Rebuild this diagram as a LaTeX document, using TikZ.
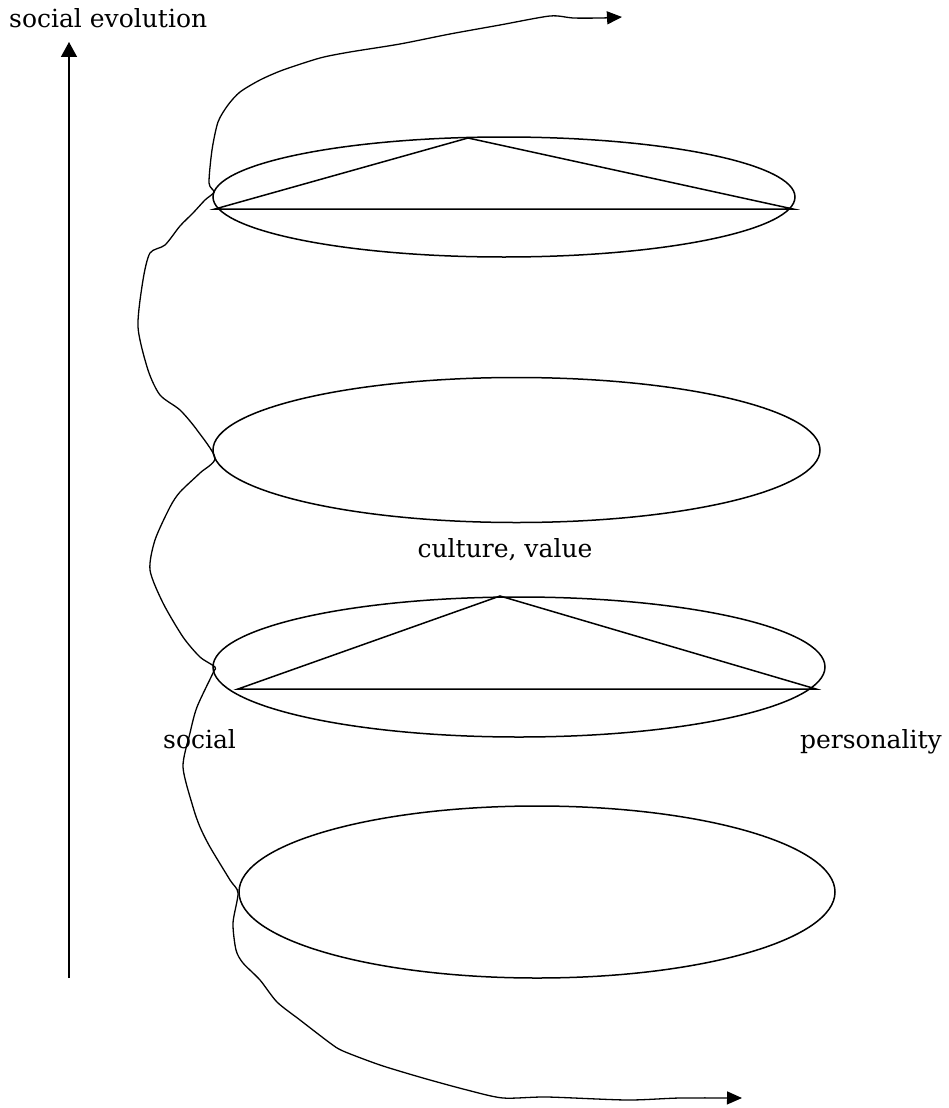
\documentclass[tikz,border=0pt]{standalone}
\usepackage{fontspec}
\setmainfont{DejaVu Serif}
\usetikzlibrary{arrows.meta}
\begin{document}
\begin{tikzpicture}[x=1pt,y=-1pt,
  lbl/.style={inner sep=0pt,font=\fontsize{25}{29}\selectfont},
  ring/.style={line width=1.5pt},
  tri/.style={line width=1.5pt,line join=miter},
  spiral/.style={line width=1.3pt,{Triangle[length=15pt,width=13pt]}-{Triangle[length=15pt,width=13pt]}},
  axis/.style={line width=1.5pt,-{Triangle[length=15pt,width=16pt]}}]
\useasboundingbox (0,0) rectangle (949,1108);
% axis
\coordinate (ax0) at (69,978);
\coordinate (ax1) at (69,42);
\draw[axis] (ax0) -- (ax1);
\node[lbl,anchor=base west] (evo) at (9,28) {social evolution};
% ellipses
\coordinate (e1) at (504,197);
\coordinate (e2) at (516.5,450);
\coordinate (e3) at (519,667);
\coordinate (e4) at (537,892);
\draw[ring] (e1) ellipse [x radius=291,y radius=60];
\draw[ring] (e2) ellipse [x radius=303.5,y radius=72.5];
\draw[ring] (e3) ellipse [x radius=306,y radius=70];
\draw[ring] (e4) ellipse [x radius=298,y radius=86];
% triangles
\coordinate (t1a) at (215,209);
\coordinate (t1b) at (468,138);
\coordinate (t1c) at (793,209);
\draw[tri] (t1a) -- (t1b) -- (t1c) -- cycle;
\coordinate (t3a) at (238,689);
\coordinate (t3b) at (500,596);
\coordinate (t3c) at (816,689);
\draw[tri] (t3a) -- (t3b) -- (t3c) -- cycle;
% labels
\node[lbl,anchor=base] (cv) at (505,557) {culture, value};
\node[lbl,anchor=base west] (soc) at (163,748) {social};
\node[lbl,anchor=base east] (per) at (942,748) {personality};
% spiral
\coordinate (sptop) at (622,17);
\coordinate (spbot) at (742,1098);
\draw[spiral] plot[smooth,tension=0.45] coordinates {
 (sptop) (600,18) (573,18) (550,16) (500,25) (450,34) (400,44) (350,52)
 (320,58) (283,70) (260,80) (240,92) (228,105) (218,122) (212,150)
 (209,183) (214,192) (205,200) (193,213) (180,226) (165,245) (150,253)
 (143,280) (138,327) (148,370) (160,395) (180,410) (197,430) (215,458)
 (200,473) (180,492) (170,507) (155,540) (150,570) (163,603) (183,637)
 (200,657) (215,667) (213,673) (197,707) (190,733) (183,767) (193,807)
 (200,827) (210,847) (230,880) (238,893) (233,923) (236,950) (243,963)
 (260,980) (277,1002) (300,1020) (330,1043) (343,1051) (380,1065)
 (423,1078) (467,1090) (503,1098) (547,1097) (627,1100) (680,1098) (spbot)};
\end{tikzpicture}
\end{document}
